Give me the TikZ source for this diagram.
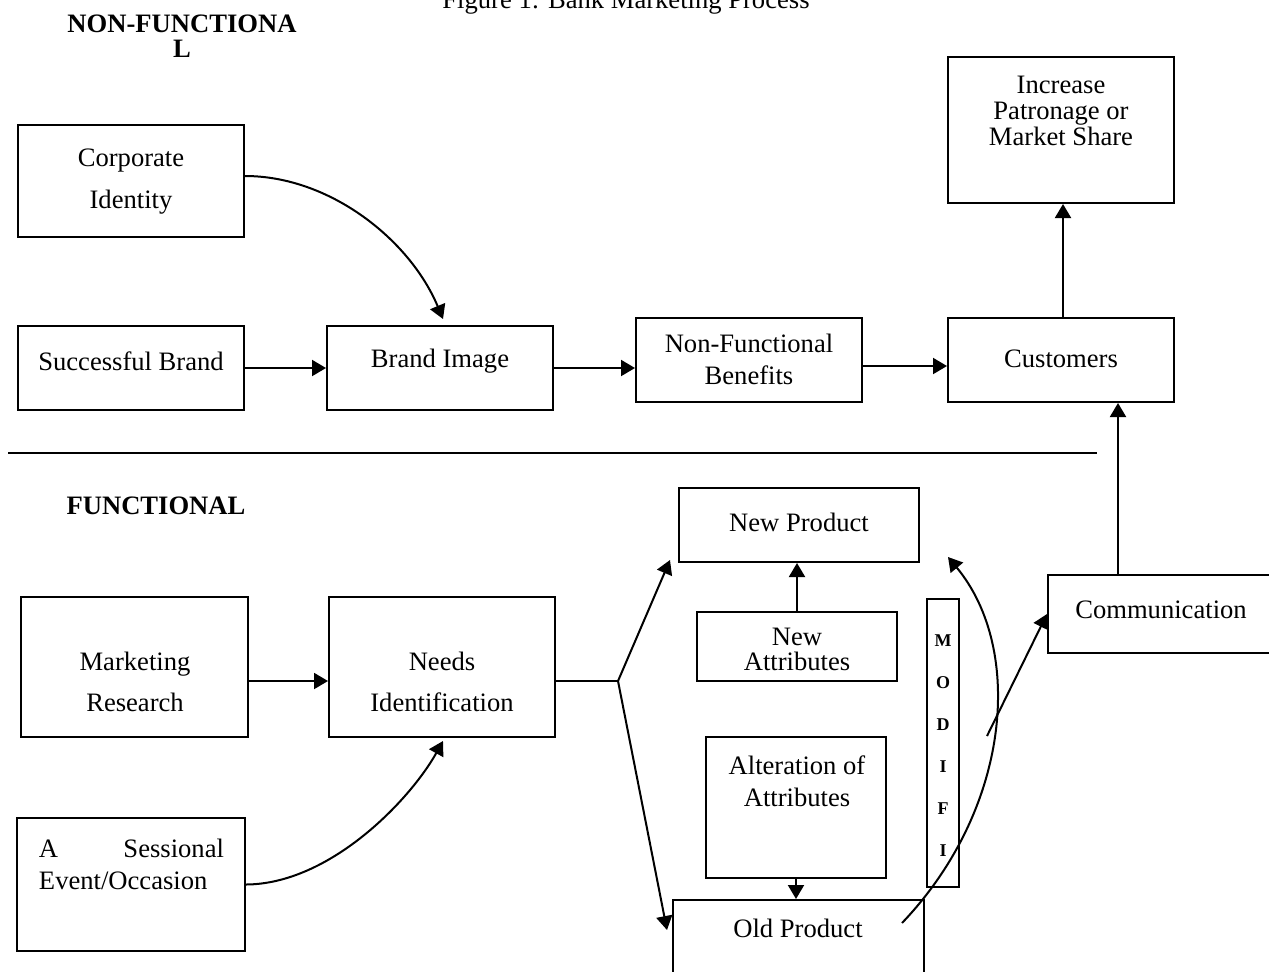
\documentclass[tikz,border=0pt]{standalone}
\usepackage{fontspec}
\setmainfont{Liberation Serif}
\usetikzlibrary{arrows.meta,calc}
\begin{document}
\begin{tikzpicture}[x=0.5pt,y=-0.5pt,
  box/.style={draw,line width=1pt,inner sep=0pt},
  txt/.style={font=\fontsize{13.3}{16}\selectfont,align=center,inner sep=0pt},
  arr/.style={line width=1pt,-{Triangle[length=7pt,width=8pt]}},
  ln/.style={line width=1pt},
  hd/.style={font=\bfseries\fontsize{13.3}{12.5}\selectfont,align=center,inner sep=0pt}]
\useasboundingbox (0,0) rectangle (1269,971);

% headings
\node[txt,anchor=base] (title) at (626,8) {Figure 1: Bank Marketing Process};
\node[hd] (hnf) at (182,36) {NON-FUNCTIONA\\L};
\node[hd] (hf) at (156,506) {FUNCTIONAL};

% separator
\coordinate (sepL) at (8,453);
\coordinate (sepR) at (1097,453);
\draw[ln] (sepL) -- (sepR);

% boxes
\node[box,minimum width=113pt,minimum height=56pt] (ci) at (131,181) {};
\node[box,minimum width=113pt,minimum height=42pt] (sb) at (131,368) {};
\node[box,minimum width=113pt,minimum height=42pt] (bi) at (440,368) {};
\node[box,minimum width=113pt,minimum height=42pt] (nf) at (749,360) {};
\node[box,minimum width=113pt,minimum height=42pt] (cu) at (1061,360) {};
\node[box,minimum width=113pt,minimum height=73pt] (ip) at (1061,130) {};
\node[box,minimum width=120pt,minimum height=37pt] (np) at (799,525) {};
\node[box,minimum width=100pt,minimum height=34.5pt] (na) at (797,646.5) {};
\node[box,minimum width=113pt,minimum height=39pt] (co) at (1161,614) {};
\node[box,minimum width=113.5pt,minimum height=70pt] (mr) at (134.5,667) {};
\node[box,minimum width=113pt,minimum height=70pt] (ni) at (442,667) {};
\node[box,minimum width=90pt,minimum height=70.5pt] (al) at (796,807.5) {};
\node[box,minimum width=16pt,minimum height=144pt] (mo) at (943,743) {};
\node[box,minimum width=114pt,minimum height=66.5pt] (se) at (131,884.5) {};
\node[box,minimum width=125.5pt,minimum height=50pt] (op) at (798.5,950) {};

% texts
\node[txt,font=\fontsize{13.3}{21}\selectfont] (ci-t) at (131,182) {Corporate\\Identity};
\node[txt] (sb-t) at (131,361) {Successful Brand};
\node[txt] (bi-t) at (440,361) {Brand Image};
\node[txt] (nf-t) at (749,359) {Non-Functional\\Benefits};
\node[txt] (cu-t) at (1061,359) {Customers};
\node[txt,font=\fontsize{13.3}{13}\selectfont] (ip-t) at (1061,111) {Increase\\Patronage or\\Market Share};
\node[txt] (np-t) at (799,522) {New Product};
\node[txt,font=\fontsize{13.3}{12.5}\selectfont] (na-t) at (797,649) {New\\Attributes};
\node[txt] (co-t) at (1161,610) {Communication};
\node[txt,font=\fontsize{13.3}{20.5}\selectfont] (mr-t) at (135,682) {Marketing\\Research};
\node[txt,font=\fontsize{13.3}{20.5}\selectfont] (ni-t) at (442,682) {Needs\\Identification};
\node[txt] (al-t) at (797,781) {Alteration of\\Attributes};
\node[txt,align=left] (se-t) at (131.5,864) {\makebox[92.5pt][s]{A\hfill Sessional}\\Event/Occasion};
\node[txt] (op-t) at (798,928) {Old Product};
\node[font=\bfseries\fontsize{9}{21}\selectfont,align=center,inner sep=0pt] (mo-t) at (943,746) {M\\O\\D\\I\\F\\I};

% connectors, non-functional part
\draw[arr] ([yshift=2.5pt]ci.east) .. controls (330,176) and (410,240) .. ([xshift=1.5pt,yshift=3pt]bi.north);
\draw[arr] (sb.east) -- (bi.west);
\draw[arr] (bi.east) -- (bi.east -| nf.west);
\draw[arr] ([yshift=-3pt]nf.east) -- ([yshift=-3pt]cu.west);
\draw[arr] ([xshift=1pt]cu.north) -- ([xshift=1pt]ip.south);
\draw[arr] ([xshift=-21.5pt]co.north) -- ([xshift=-21.5pt]co.north |- cu.south);

% connectors, functional part
\draw[arr] ([yshift=-7pt]mr.east) -- ([yshift=-7pt]ni.west);
\draw[arr] (se.east) .. controls (330,884) and (410,800) .. ([xshift=0.5pt,yshift=-1.5pt]ni.south);
\coordinate (split) at (618,681);
\draw[ln] ([yshift=-7pt]ni.east) -- (split);
\draw[arr] (split) -- ([xshift=-4pt,yshift=1.5pt]np.south west);
\draw[arr] (split) -- ([xshift=-2.5pt,yshift=10pt]op.west);
\draw[arr] (na.north) -- (na.north |- np.south);
\draw[arr] (al.south) -- (al.south |- op.north);
\coordinate (m0) at (902,923);
\draw[arr] (m0) .. controls (1010,810) and (1025,650) .. (948,557);
\coordinate (c0) at (987,736);
\draw[arr] (c0) -- (co.west);
\end{tikzpicture}
\end{document}
